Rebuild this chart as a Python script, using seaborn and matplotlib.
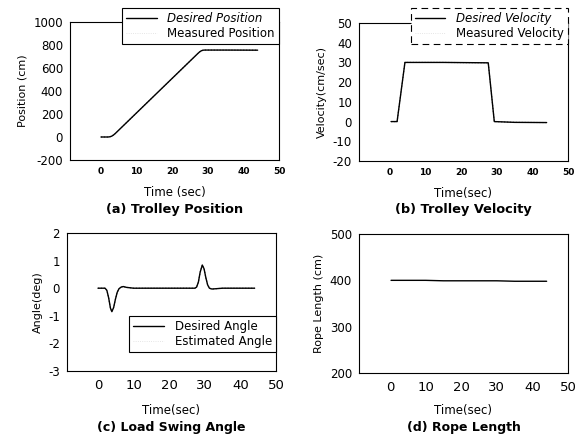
import matplotlib
matplotlib.use("Agg")
import matplotlib.pyplot as plt
import seaborn as sns
import pandas as pd
from matplotlib.lines import Line2D

sns.set_theme(style="white")
plt.rcParams['font.family'] = ['DejaVu Sans']
plt.rcParams['axes.unicode_minus'] = False
plt.rcParams['text.color'] = 'black'
plt.rcParams['axes.labelcolor'] = 'black'
plt.rcParams['xtick.color'] = 'black'
plt.rcParams['ytick.color'] = 'black'

# ---- data ----
t_pos = [0, 2, 2.5, 3, 3.5, 4, 10, 20, 27.2, 27.7, 28.2, 28.7, 29.2, 29.7, 35, 44]
pos_desired = [0, 0, 2, 7, 17, 30, 210, 510, 726, 740, 750, 755, 756, 756, 756, 755]
pos_measured = [0, 0, 2, 7, 17, 30, 210, 510, 726, 740, 750, 755, 756, 756, 756, 755]

t_vel = [0.3, 2, 4.2, 15, 27.6, 29.3, 35, 44]
vel_desired = [0, 0, 30, 30, 29.8, 0, -0.4, -0.5]
vel_measured = [0, 0, 30, 30, 29.8, 0, -0.4, -0.5]

t_ang = [0, 2, 2.5, 3, 3.5, 3.9, 4.4, 4.9, 5.4, 5.9, 6.5, 7.1, 8, 10, 20, 27.2, 27.7,
         28.2, 28.7, 29.3, 29.8, 30.3, 30.8, 31.3, 32, 35, 44]
ang_desired = [0, 0, -0.08, -0.35, -0.72, -0.85, -0.7, -0.4, -0.15, -0.02, 0.04, 0.06,
               0.03, 0, 0, 0, 0.04, 0.22, 0.58, 0.84, 0.7, 0.38, 0.12, 0.0, -0.03, 0, 0]
ang_estimated = ang_desired

t_rope = [0.3, 10, 15, 30, 35, 44]
rope_len = [400, 400, 399, 399, 398, 398]

xticks = [0, 10, 20, 30, 40, 50]

W, H = 587, 436
fig = plt.figure(figsize=(W / 100, H / 100), dpi=100)

def px_axes(left, top, right, bottom):
    return fig.add_axes([left / W, 1 - bottom / H, (right - left) / W, (bottom - top) / H])

axa = px_axes(70, 22, 279, 160)
axb = px_axes(359, 23, 568, 161)
axc = px_axes(67, 233, 276, 371)
axd = px_axes(359, 234, 568, 373)

def style(ax, ylim, yticks, ylabel, xlabel, title, bold_x, xl_off, ti_off, ti_size):
    ax.set_xlim(-8.7, 50)
    ax.set_ylim(*ylim)
    ax.set_xticks(xticks)
    ax.set_yticks(yticks)
    ax.tick_params(axis='both', length=0, pad=5, colors='black')
    ax.tick_params(axis='y', labelsize=8.5)
    if bold_x:
        ax.tick_params(axis='x', labelsize=6.5)
        for lab in ax.get_xticklabels():
            lab.set_fontweight('bold')
    else:
        ax.tick_params(axis='x', labelsize=9.5, pad=6)
    for s in ax.spines.values():
        s.set_color('black')
        s.set_linewidth(0.8)
    ax.set_ylabel(ylabel, fontsize=8, color='black', labelpad=4)
    ax.set_xlabel('')
    ax.text(0.5, -xl_off / 138, xlabel, transform=ax.transAxes, ha='center', va='center',
            fontsize=8.5, color='black')
    ax.text(0.5, -ti_off / 138, title, transform=ax.transAxes, ha='center', va='center',
            fontsize=ti_size, fontweight='bold', color='black')

# (a)
dfa = pd.DataFrame({'t': t_pos, 'd': pos_desired, 'm': pos_measured})
sns.lineplot(data=dfa, x='t', y='m', ax=axa, color='#555555', lw=0.8, linestyle=':')
sns.lineplot(data=dfa, x='t', y='d', ax=axa, color='black', lw=1.0)
style(axa, (-200, 1000), [-200, 0, 200, 400, 600, 800, 1000], 'Position (cm)',
      'Time (sec)', '(a) Trolley Position', True, 32, 49, 9.3)

# (b)
dfb = pd.DataFrame({'t': t_vel, 'd': vel_desired, 'm': vel_measured})
sns.lineplot(data=dfb, x='t', y='m', ax=axb, color='#555555', lw=0.8, linestyle=':')
sns.lineplot(data=dfb, x='t', y='d', ax=axb, color='black', lw=1.0)
style(axb, (-20, 50), [-20, -10, 0, 10, 20, 30, 40, 50], 'Velocity(cm/sec)',
      'Time(sec)', '(b) Trolley Velocity', True, 32, 49, 9.3)

# (c)
dfc = pd.DataFrame({'t': t_ang, 'd': ang_desired, 'e': ang_estimated})
sns.lineplot(data=dfc, x='t', y='e', ax=axc, color='#555555', lw=0.8, linestyle=':')
sns.lineplot(data=dfc, x='t', y='d', ax=axc, color='black', lw=1.0)
style(axc, (-3, 2), [-3, -2, -1, 0, 1, 2], 'Angle(deg)',
      'Time(sec)', '(c) Load Swing Angle', False, 39, 56, 9.0)

# (d)
dfd = pd.DataFrame({'t': t_rope, 'l': rope_len})
sns.lineplot(data=dfd, x='t', y='l', ax=axd, color='black', lw=1.0)
style(axd, (200, 500), [200, 300, 400, 500], 'Rope Length (cm)',
      'Time(sec)', '(d) Rope Length', False, 37, 54, 9.0)

def legend(ax, labels, bbox, dashed=False):
    handles = [Line2D([], [], color='black', lw=1.0),
               Line2D([], [], color='#dddddd', lw=0.6, linestyle=':')]
    leg = ax.legend(handles, labels, loc='upper right', bbox_to_anchor=bbox,
                    frameon=True, fancybox=False, fontsize=8.5, handlelength=2.6,
                    borderpad=0.35, labelspacing=0.15, handletextpad=0.9,
                    borderaxespad=0, labelcolor='black')
    fr = leg.get_frame()
    fr.set_edgecolor('black')
    fr.set_linewidth(0.8)
    fr.set_alpha(1)
    if dashed:
        fr.set_linestyle((0, (6, 4)))
    leg.set_zorder(10)
    return leg

la = legend(axa, ['Desired Position', 'Measured Position'], (1.0, 1.10))
la.get_texts()[0].set_fontstyle('italic')
lb = legend(axb, ['Desired Velocity', 'Measured Velocity'], (1.0, 1.11), dashed=True)
lb.get_texts()[0].set_fontstyle('italic')
lc = legend(axc, ['Desired Angle', 'Estimated Angle'], (1.0, 0.40))

fig.savefig('out.png', dpi=100)
